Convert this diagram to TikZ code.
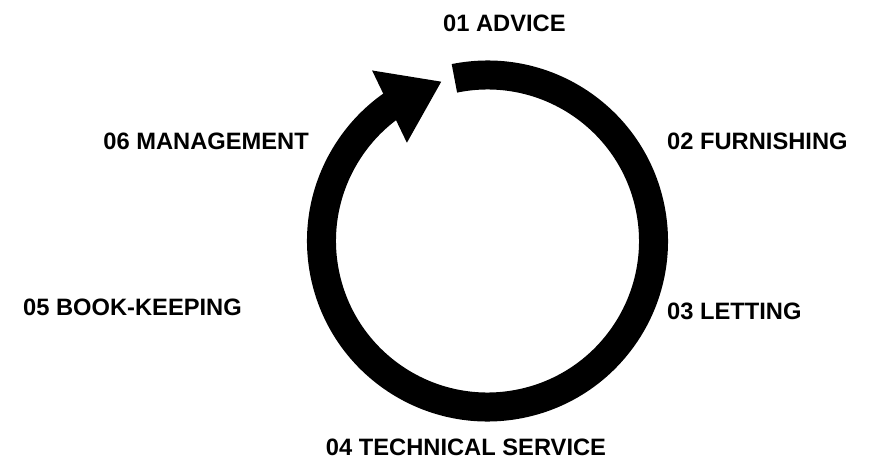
\documentclass[tikz,border=0pt]{standalone}
\usepackage{fontspec}
\setmainfont{Liberation Sans}
\usetikzlibrary{arrows.meta,bending}

\begin{document}
\begin{tikzpicture}[x=1pt,y=1pt]
  \tikzset{StepLabel/.style={font=\bfseries\fontsize{23.7}{28}\selectfont,
      inner sep=0pt}}
  \tikzset{RingStyle/.style={line width=29pt,
      -{Triangle[length=58pt,width=76pt]}}}
  \useasboundingbox (-487.5,-219) rectangle (381.5,241);

  \coordinate (hub) at (0,0);
  \coordinate (ringstart) at (101.5:166);

  % steps round the ring
  \node[StepLabel, anchor=west] (advice) at (-44.5,217.5) {01 ADVICE};
  \node[StepLabel, anchor=west] (furnishing) at (179.5,99.5) {02 FURNISHING};
  \node[StepLabel, anchor=west] (letting) at (179.5,-70.5) {03 LETTING};
  \node[StepLabel] (service) at (-21.5,-206.5) {04 TECHNICAL SERVICE};
  \node[StepLabel, anchor=west] (bookkeeping) at (-464.5,-66.5) {05 BOOK-KEEPING};
  \node[StepLabel, anchor=east] (management) at (-178.5,99.5) {06 MANAGEMENT};

  \draw[RingStyle] (ringstart) arc[start angle=101.5, end angle=-254, radius=166];
\end{tikzpicture}
\end{document}
